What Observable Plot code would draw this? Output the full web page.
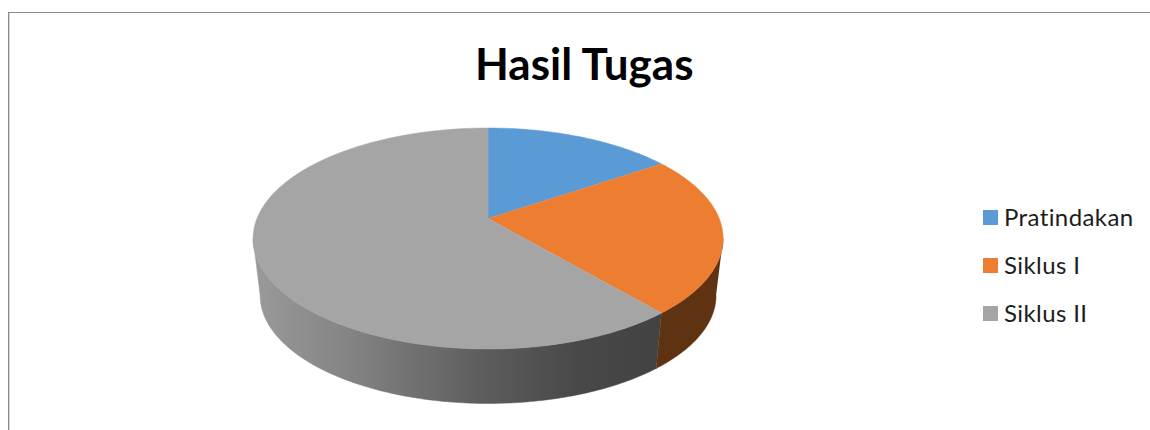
<!DOCTYPE html>
<html>
<head>
<meta charset="utf-8">
<script src="https://cdn.jsdelivr.net/npm/d3@7"></script>
<script src="https://cdn.jsdelivr.net/npm/@observablehq/plot@0.6"></script>
<style>
html,body{margin:0;padding:0;background:#fff;overflow:hidden}
#wrap{position:relative;width:1150px;height:430px;font-family:Lato,"Open Sans",sans-serif}
#frame{position:absolute;left:8px;top:12px;right:0;bottom:0;border-left:1px solid #8a8a8a;border-top:1px solid #8a8a8a;box-shadow:inset 1px 0 0 #d9d9d9}
#title{position:absolute;left:475px;top:38px;font-size:44px;font-weight:700;color:#000;line-height:50px;white-space:nowrap}
.lg{position:absolute;left:983px;display:flex;align-items:center;height:24px;font-size:24px;letter-spacing:0.4px;color:#1c1c1c;white-space:nowrap}
.lg i{display:block;position:relative;top:1.5px;width:15px;height:15px;margin-right:6px}
svg{position:absolute;left:0;top:0}
</style>
</head>
<body>
<div id="wrap"><div id="frame"></div><div id="title"></div></div>
<script>
const titleText = "Hasil Tugas";
const categories = ["Pratindakan", "Siklus I", "Siklus II"];
const values = [13.2, 23.6, 63.2];
const colors = ["#5b9bd5", "#ed7d31", "#a5a5a5"];
const sideFills = ["#5b9bd5", "#5f3211", "url(#sideGray)"];

const total = d3.sum(values);
const ends = d3.cumsum(values).map(v => v / total * 360);
const starts = [0, ...ends.slice(0, -1)];
const rad = d => d * Math.PI / 180;

// plane geometry of the tilted pie, in units of the top ellipse's radii
const apexY = 0.18, bottom = {cx: 0, rx: 0.97, ry: 0.977, cy: -0.516};
const topPt = d => ({x: Math.sin(rad(d)), y: Math.cos(rad(d))});
const botPt = d => ({x: bottom.cx + bottom.rx * Math.sin(rad(d)), y: bottom.cy + bottom.ry * Math.cos(rad(d))});
const arc = (a, b, f) => { const n = Math.max(2, Math.ceil(Math.abs(b - a))); return d3.range(n + 1).map(i => f(a + (b - a) * i / n)); };

const tops = categories.map((c, i) => [{x: 0, y: apexY}, ...arc(starts[i], ends[i], topPt)]);
const sides = categories.map((c, i) => {
  const a = Math.max(starts[i], 90), b = Math.min(ends[i], 270);
  return a < b ? [...arc(a, b, topPt), ...arc(b, a, botPt)] : [];
});

const W = 1150, H = 430;
const xDomain = [-487.6 / 235, (W - 487.6) / 235];
const yDomain = [238 / 110.5, (238 - H) / 110.5];

const gradient = (i, scales) => {
  const g = d3.create("svg:defs");
  const lg = g.append("linearGradient").attr("id", "sideGray").attr("gradientUnits", "userSpaceOnUse")
    .attr("x1", scales.x(-1)).attr("x2", scales.x(0.74)).attr("y1", 0).attr("y2", 0);
  [[0, "#9a9a9a"], [0.25, "#828282"], [0.55, "#5e5e5e"], [0.8, "#484848"], [1, "#424242"]]
    .forEach(([o, c]) => lg.append("stop").attr("offset", o).attr("stop-color", c));
  return g.node();
};

const plot = Plot.plot({
  width: W, height: H, margin: 0,
  style: {background: "transparent"},
  x: {domain: xDomain, range: [0, W], axis: null},
  y: {domain: yDomain, range: [0, H], axis: null},
  marks: [
    gradient,
    ...sides.map((pts, i) => pts.length ? Plot.line(pts, {x: "x", y: "y", fill: sideFills[i], stroke: sideFills[i], strokeWidth: 0.5, curve: "linear"}) : null),
    ...tops.map((pts, i) => Plot.line(pts, {x: "x", y: "y", fill: colors[i], stroke: colors[i], strokeWidth: 0.5, curve: "linear"}))
  ]
});
const wrap = document.getElementById("wrap");
wrap.appendChild(plot);
document.getElementById("title").textContent = titleText;
const legendTops = [204, 252, 300];
categories.forEach((c, i) => {
  const d = document.createElement("div");
  d.className = "lg";
  d.style.top = legendTops[i] + "px";
  const sw = document.createElement("i");
  sw.style.background = colors[i];
  d.appendChild(sw);
  d.appendChild(document.createTextNode(c));
  wrap.appendChild(d);
});
</script>
</body>
</html>
